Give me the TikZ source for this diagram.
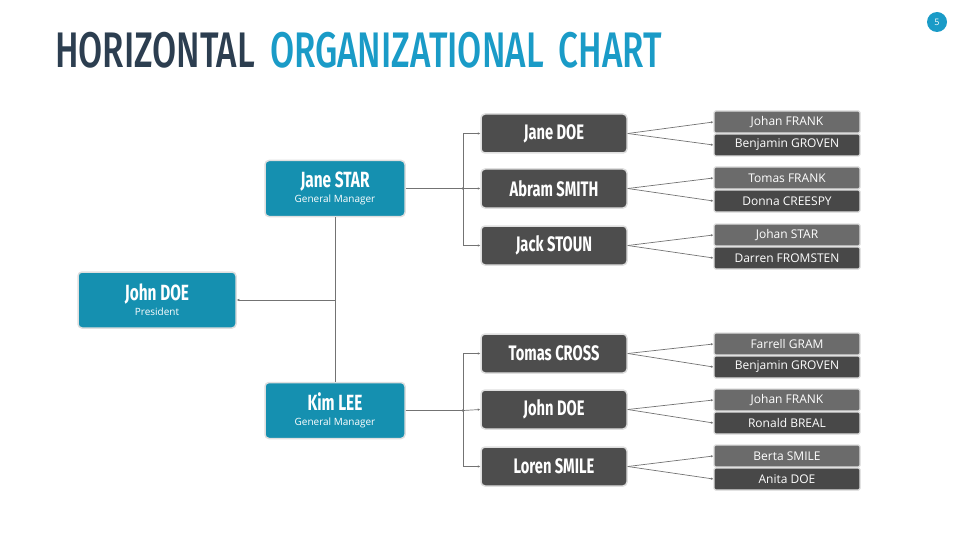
\documentclass[tikz,border=0pt]{standalone}
\usepackage{fontspec}
\setmainfont{Open Sans}
\newfontfamily\cond[FakeStretch=0.7]{Fira Sans}
\newfontfamily\condt[FakeStretch=0.7,UprightFont=* Medium]{Fira Sans}
\usetikzlibrary{arrows.meta}
\definecolor{teal1}{HTML}{1590B0}
\definecolor{dark1}{HTML}{2C3E50}
\definecolor{blue1}{HTML}{1A9BC7}
\definecolor{gbox}{HTML}{4D4D4D}
\definecolor{leafa}{HTML}{6B6B6B}
\definecolor{leafb}{HTML}{484848}
\begin{document}
\begin{tikzpicture}[x=1pt,y=-1pt,
 bluebox/.style={fill=teal1,draw=gray!25,line width=1.5pt,rounded corners=4pt,text=white,minimum width=158pt,minimum height=56pt,align=center,inner sep=0pt},
 midbox/.style={fill=gbox,draw=gray!25,line width=1.5pt,rounded corners=4pt,text=white,minimum width=146pt,minimum height=39pt,inner sep=0pt,font=\cond\bfseries\fontsize{21}{22}\selectfont},
 leafbox/.style={draw=gray!25,line width=1.2pt,rounded corners=1.5pt,text=white,minimum width=146pt,minimum height=22pt,inner sep=0pt,font=\fontsize{12}{12}\selectfont},
 conn/.style={draw=gray!90!black,line width=0.7pt},
 arr/.style={conn,-{Latex[length=2.5pt,width=2.5pt]}}]
\useasboundingbox (0,0) rectangle (960,540);
\node[anchor=west,inner sep=0pt,font=\condt\fontsize{50}{50}\selectfont] (title) at (55,50) {\textcolor{dark1}{HORIZONTAL}\hspace{15pt}\textcolor{blue1}{ORGANIZATIONAL\hspace{15pt}CHART}};
\node[circle,fill=blue1,minimum size=20pt,inner sep=0pt,text=white,font=\fontsize{9}{9}\selectfont] (pg) at (937,22) {5};
\node[bluebox] (pres) at (157,300) {{\cond\bfseries\fontsize{22}{24}\selectfont John DOE}\\[3pt]{\fontsize{10}{11}\selectfont President}};
\node[bluebox,minimum width=140pt] (gm1) at (335,188.5) {{\cond\bfseries\fontsize{22}{24}\selectfont Jane STAR}\\[3pt]{\fontsize{10}{11}\selectfont General Manager}};
\node[bluebox,minimum width=140pt] (gm2) at (335,410.5) {{\cond\bfseries\fontsize{22}{24}\selectfont Kim LEE}\\[3pt]{\fontsize{10}{11}\selectfont General Manager}};
\coordinate (j0) at (335,300);
\draw[conn] (gm1.south) -- (gm2.north);
\draw[arr] (j0) -- (pres.east);
\node[midbox] (m1) at (554,133.5) {Jane DOE};
\node[midbox] (m2) at (554,188.5) {Abram SMITH};
\node[midbox] (m3) at (554,245.5) {Jack STOUN};
\node[midbox] (m4) at (554,353.5) {Tomas CROSS};
\node[midbox] (m5) at (554,409.5) {John DOE};
\node[midbox] (m6) at (554,466.5) {Loren SMILE};
\coordinate (b1) at (463,188.5);
\coordinate (b2) at (463,410.5);
\draw[arr] (gm1.east) -- (b1) -- (m2.west);
\draw[arr] (b1) |- (m1.west);
\draw[arr] (b1) |- (m3.west);
\draw[arr] (gm2.east) -- (b2) -- (m5.west);
\draw[arr] (b2) |- (m4.west);
\draw[arr] (b2) |- (m6.west);
\fill[gray!90!black] (b1) circle (1.3pt) (b2) circle (1.3pt);
\newcommand\leafpair[5]{%
\node[leafbox,fill=leafa] (#1a) at (787,#3) {#4};
\node[leafbox,fill=leafb] (#1b) at (787,#3+23) {#5};
\draw[arr] (#2.east) -- (#1a.west);
\draw[arr] (#2.east) -- (#1b.west);}
\leafpair{l1}{m1}{122}{Johan FRANK}{Benjamin GROVEN}
\leafpair{l2}{m2}{178}{Tomas FRANK}{Donna CREESPY}
\leafpair{l3}{m3}{235}{Johan STAR}{Darren FROMSTEN}
\leafpair{l4}{m4}{344}{Farrell GRAM}{Benjamin GROVEN}
\leafpair{l5}{m5}{400}{Johan FRANK}{Ronald BREAL}
\leafpair{l6}{m6}{456}{Berta SMILE}{Anita DOE}
\end{tikzpicture}
\end{document}
